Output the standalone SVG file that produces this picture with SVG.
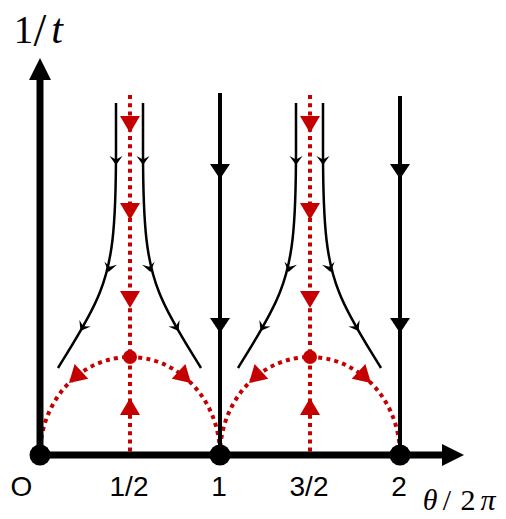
<svg xmlns="http://www.w3.org/2000/svg" width="506" height="519" viewBox="0 0 506 519">
<style>
.ax{stroke:#000;stroke-width:7;fill:none}
.bl{stroke:#000;stroke-width:4;fill:none}
.cv{stroke:#000;stroke-width:2.5;fill:none}
.rd{stroke:#c40000;stroke-width:4;fill:none;stroke-dasharray:4 4.2}
.rf{fill:#c40000}
.bf{fill:#000}
.lab{font-family:"Liberation Sans",Arial,sans-serif;font-size:28px;fill:#000;text-anchor:middle}
.math{font-family:"Liberation Serif","Times New Roman",serif;fill:#000;text-anchor:middle}
</style>
<defs>
<path id="sa" d="M0,0 L-6.5,-9 L0,-5.5 L6.5,-9 Z"/>
<path id="ba" d="M0,0 L-10,-15 L10,-15 Z"/>
<path id="ra" d="M0,0 L-10,-17 L10,-17 Z"/>
<g id="cell">
<path class="rd" d="M40,455 A90,98 0 0 1 220,455"/>
<line class="rd" x1="130" y1="95" x2="130" y2="453"/>
<path class="cv" d="M116,103 L116,150 C116,230 112,262 100,292 C90,318 72,345 58,368"/>
<path class="cv" d="M143,103 L143,150 C143,230 147,262 159,292 C169,318 187,345 201,368"/>
<use href="#sa" class="bf" transform="translate(116,165)"/>
<use href="#sa" class="bf" transform="translate(108.5,272) rotate(14)"/>
<use href="#sa" class="bf" transform="translate(80.5,331) rotate(30)"/>
<use href="#sa" class="bf" transform="translate(143,165)"/>
<use href="#sa" class="bf" transform="translate(150.5,272) rotate(-14)"/>
<use href="#sa" class="bf" transform="translate(178.5,331) rotate(-30)"/>
<use href="#ra" class="rf" transform="translate(130,133)"/>
<use href="#ra" class="rf" transform="translate(130,220)"/>
<use href="#ra" class="rf" transform="translate(130,308)"/>
<use href="#ra" class="rf" transform="translate(130,398) rotate(180)"/>
<use href="#ra" class="rf" transform="translate(69,383) rotate(47)"/>
<use href="#ra" class="rf" transform="translate(191,383) rotate(-47)"/>
<circle class="rf" cx="130" cy="357" r="7"/>
</g>
</defs>
<g id="connectors">
<g id="flow-half"><use href="#cell"/></g>
<g id="flow-three-halves"><use href="#cell" transform="translate(180,0)"/></g>
<g id="line-1">
<line class="bl" x1="220" y1="93" x2="220" y2="455"/>
<use href="#ba" class="bf" transform="translate(220,179)"/>
<use href="#ba" class="bf" transform="translate(220,333)"/>
</g>
<g id="line-2">
<line class="bl" x1="400" y1="96" x2="400" y2="455"/>
<use href="#ba" class="bf" transform="translate(400,179)"/>
<use href="#ba" class="bf" transform="translate(400,333)"/>
</g>
</g>
<g id="axes">
<line class="ax" x1="40" y1="455" x2="40" y2="78"/>
<path class="bf" d="M40,58 L29,80 L51,80 Z"/>
<line class="ax" x1="40" y1="455" x2="444" y2="455"/>
<path class="bf" d="M464,455 L442,444 L442,466 Z"/>
</g>
<g id="node-0"><circle class="bf" cx="40" cy="455" r="10.5"/></g>
<g id="node-1"><circle class="bf" cx="220" cy="455" r="10.5"/></g>
<g id="node-2"><circle class="bf" cx="400" cy="455" r="10.5"/></g>
<g id="labels">
<text class="lab" x="21.5" y="496">O</text>
<text class="lab" x="129" y="496">1/2</text>
<text class="lab" x="219" y="496">1</text>
<text class="lab" x="309" y="496">3/2</text>
<text class="lab" x="399" y="496">2</text>
<text class="math" font-size="39"><tspan x="23.5" y="43">1</tspan><tspan x="40" y="46" font-size="46">/</tspan><tspan x="57" y="43" font-style="italic" font-size="42">t</tspan></text>
<text class="math" font-size="30"><tspan x="430" y="510" font-style="italic">θ</tspan><tspan x="447" y="510">/</tspan><tspan x="468" y="510">2</tspan><tspan x="488" y="510" font-style="italic">π</tspan></text>
</g>
</svg>
